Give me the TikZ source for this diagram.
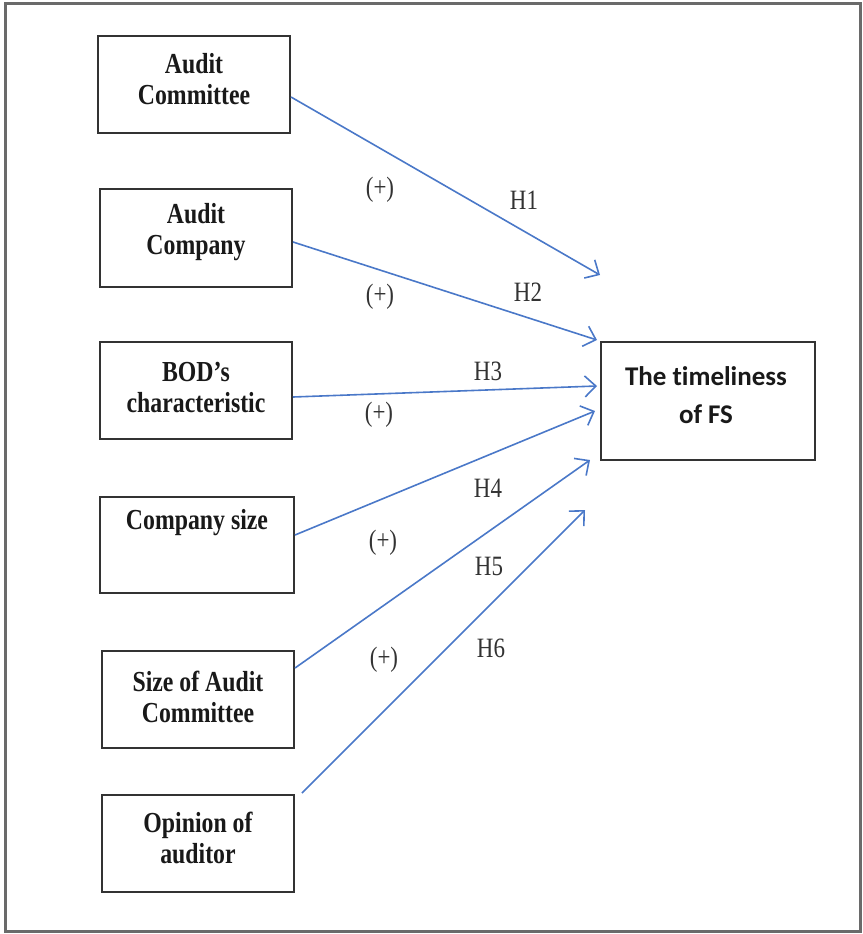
\documentclass[tikz,border=0pt]{standalone}
\usepackage{fontspec}
\setmainfont{Liberation Serif}
\newfontfamily\boxfont[FakeStretch=0.82]{Liberation Serif}
\newfontfamily\calfont[Ligatures=NoCommon]{Carlito}
\usetikzlibrary{arrows.meta}
\definecolor{arrowblue}{HTML}{4A78C8}
\definecolor{boxgray}{HTML}{333333}
\definecolor{framegray}{HTML}{6A6A6A}
\tikzset{
  frame/.style={draw=framegray, line width=3pt},
  varbox/.style={draw=boxgray, line width=2pt, rectangle, inner sep=0pt},
  boxtext/.style={font=\boxfont\bfseries\fontsize{29}{31}\selectfont, align=center, text=black!90, inner sep=0pt},
  targettext/.style={font=\calfont\bfseries\fontsize{27}{38}\selectfont, align=center, text=black!90, inner sep=0pt},
  lbl/.style={font=\boxfont\fontsize{28}{30}\selectfont, text=black!80, inner sep=0pt},
  arr/.style={draw=arrowblue, line width=1.6pt, -{Straight Barb[length=11pt,width=21pt]}}
}
\begin{document}
\begin{tikzpicture}[x=1pt,y=-1pt]
\useasboundingbox (0,0) rectangle (862,934);
\draw[frame] (5,4) rectangle (860,931);

% boxes
\node[varbox, minimum width=192pt, minimum height=97pt] (b1) at (194,84.5) {};
\node[varbox, minimum width=192pt, minimum height=98pt] (b2) at (196,238) {};
\node[varbox, minimum width=192pt, minimum height=97pt] (b3) at (196,390.5) {};
\node[varbox, minimum width=194pt, minimum height=96pt] (b4) at (197,545) {};
\node[varbox, minimum width=192pt, minimum height=97pt] (b5) at (198,699.5) {};
\node[varbox, minimum width=192pt, minimum height=97pt] (b6) at (198,843.5) {};
\node[varbox, minimum width=214pt, minimum height=118pt] (tg) at (708,401) {};

% box texts
\node[boxtext] (t1) at (194,79) {Audit\\Committee};
\node[boxtext] (t2) at (196,232) {Audit\\Company};
\node[boxtext] (t3) at (196,387) {BOD’s\\characteristic};
\node[boxtext] (t4) at (197,523) {Company size};
\node[boxtext] (t5) at (198,697) {Size of Audit\\Committee};
\node[boxtext] (t6) at (198,838) {Opinion of\\auditor};
\node[targettext] (tt) at (706,395) {The timeliness\\of FS};

% arrow endpoints
\coordinate (e1) at (600,275);
\coordinate (e2) at (597,340);
\coordinate (e3) at (597,386);
\coordinate (e4) at (595,411);
\coordinate (e5) at (590,460);
\coordinate (e6) at (585,510);
\coordinate (s6) at (302,793);

% arrows
\draw[arr] ([yshift=-12.5pt]b1.east) -- (e1);
\draw[arr] ([yshift=-4pt]b2.east) -- (e2);
\draw[arr] ([yshift=-6.5pt]b3.east) -- (e3);
\draw[arr] ([yshift=10pt]b4.east) -- (e4);
\draw[arr] ([yshift=31.5pt]b5.east) -- (e5);
\draw[arr] (s6) -- (e6);

% labels
\node[lbl] (p1) at (380,190) {(+)};
\node[lbl] (h1) at (524,200) {H1};
\node[lbl] (p2) at (380,297) {(+)};
\node[lbl] (h2) at (528,292) {H2};
\node[lbl] (h3) at (488,371) {H3};
\node[lbl] (p3) at (379,415) {(+)};
\node[lbl] (h4) at (488,488) {H4};
\node[lbl] (p4) at (383,543) {(+)};
\node[lbl] (h5) at (489,566) {H5};
\node[lbl] (p5) at (384,660) {(+)};
\node[lbl] (h6) at (491,648) {H6};
\end{tikzpicture}
\end{document}
